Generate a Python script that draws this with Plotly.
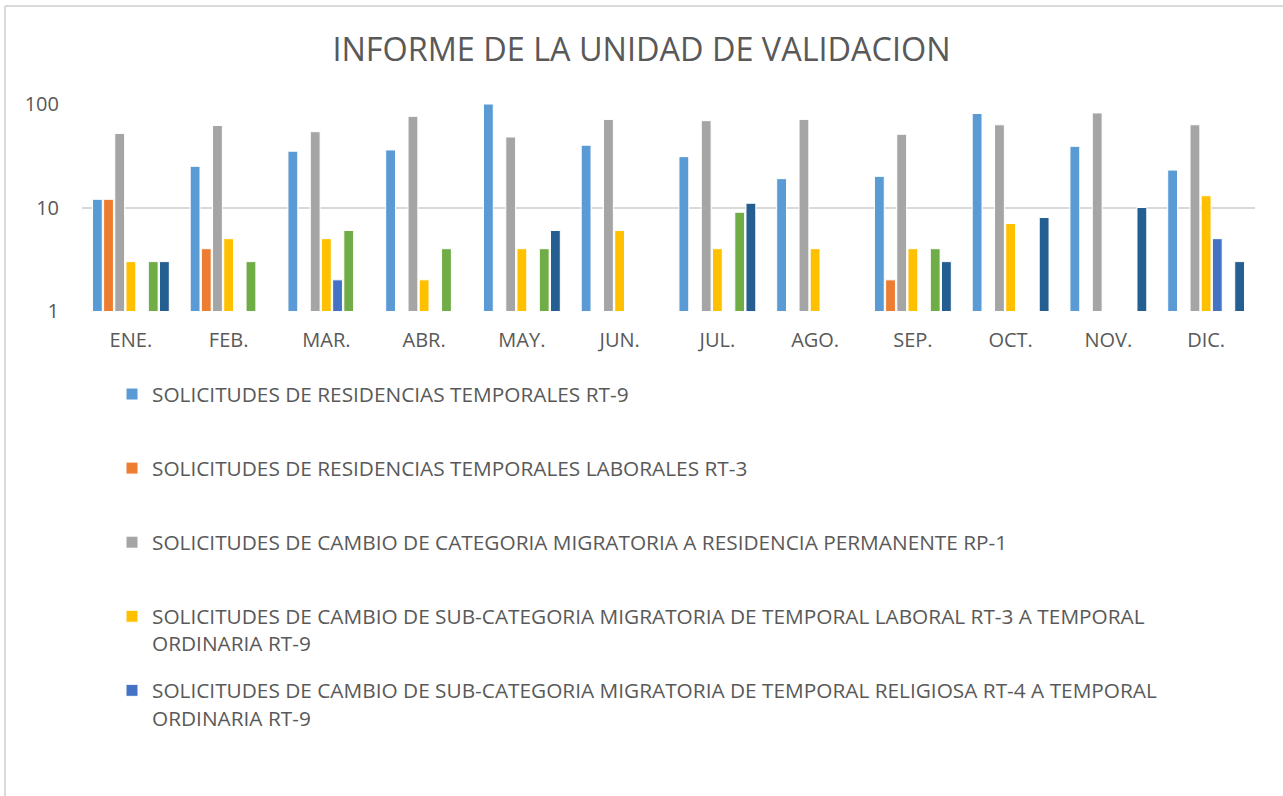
import plotly.graph_objects as go

months = ["ENE.", "FEB.", "MAR.", "ABR.", "MAY.", "JUN.", "JUL.", "AGO.", "SEP.", "OCT.", "NOV.", "DIC."]

rt9 = [12, 25, 35, 36, 100, 40, 31, 19, 20, 81, 39, 23]
rt3 = [12, 4, None, None, None, None, None, None, 2, None, None, None]
rp1 = [52, 62, 54, 76, 48, 71, 69, 71, 51, 63, 82, 63]
sub_rt3 = [3, 5, 5, 2, 4, 6, 4, 4, 4, 7, None, 13]
sub_rt4 = [None, None, 2, None, None, None, None, None, None, None, None, 5]
serie6 = [3, 3, 6, 4, 4, None, 9, None, 4, None, None, None]
serie7 = [3, None, None, None, 6, None, 11, None, 3, 8, 10, 3]

names = [
    "SOLICITUDES DE RESIDENCIAS TEMPORALES RT-9<br> ",
    "SOLICITUDES DE RESIDENCIAS TEMPORALES LABORALES RT-3<br> ",
    "SOLICITUDES DE CAMBIO DE CATEGORIA MIGRATORIA A RESIDENCIA PERMANENTE RP-1<br> ",
    "SOLICITUDES DE CAMBIO DE SUB-CATEGORIA MIGRATORIA DE TEMPORAL LABORAL RT-3 A TEMPORAL<br>ORDINARIA RT-9",
    "SOLICITUDES DE CAMBIO DE SUB-CATEGORIA MIGRATORIA DE TEMPORAL RELIGIOSA RT-4 A TEMPORAL<br>ORDINARIA RT-9",
    "SERIE 6",
    "SERIE 7",
]
series = [rt9, rt3, rp1, sub_rt3, sub_rt4, serie6, serie7]
colors = ["#5B9BD5", "#ED7D31", "#A5A5A5", "#FFC000", "#4472C4", "#70AD47", "#255E91"]
show = [True, True, True, True, True, False, False]

FONT = "Open Sans"
W, H = 1283, 796
L, R, T, B = 82, 28, 104, 485
PW, PH = W - L - R, H - T - B

fig = go.Figure()
for i, (nm, vals, c, s) in enumerate(zip(names, series, colors, show)):
    fig.add_trace(go.Bar(
        x=months, y=vals, name=nm, marker=dict(color=c, line=dict(color="white", width=1)),
        showlegend=s, legendgroup=f"g{i}",
    ))

fig.update_layout(
    width=W, height=H,
    margin=dict(l=L, r=R, t=T, b=B, autoexpand=False),
    paper_bgcolor="white", plot_bgcolor="white",
    barmode="group", bargap=0.2, bargroupgap=0.12,
    font=dict(family=FONT, color="#595959"),
    title=dict(text="INFORME DE LA UNIDAD DE VALIDACION", x=0.5, xanchor="center",
               y=1 - 50 / H, yanchor="middle", yref="container",
               font=dict(size=32.4, color="#595959", family=FONT)),
    xaxis=dict(showgrid=False, showline=False, ticks="", tickfont=dict(size=20, color="#595959"),
               ticklabelstandoff=15),
    yaxis=dict(type="log", range=[0, 2], tickvals=[1, 10, 100], ticktext=["1", "10", "100"],
               showgrid=True, gridcolor="#D9D9D9", gridwidth=2, zeroline=False, showline=False,
               tickfont=dict(size=20, color="#595959"), ticks="", ticklabelstandoff=22),
    legend=dict(orientation="v", xref="container", yref="container",
                x=112 / W, y=1 - 374 / H, xanchor="left", yanchor="top",
                font=dict(size=20.8, color="#595959", family=FONT),
                tracegroupgap=17, itemwidth=30, valign="top", bgcolor="rgba(0,0,0,0)"),
    shapes=[
        dict(type="line", xref="paper", yref="paper", x0=(5 - L) / PW, x1=(W - L) / PW,
             y0=(H - B - 6) / PH, y1=(H - B - 6) / PH,
             line=dict(color="#D9D9D9", width=2)),
        dict(type="line", xref="paper", yref="paper", x0=(5 - L) / PW, x1=(5 - L) / PW,
             y0=(H - B - 6) / PH, y1=-(B + 10) / PH,
             line=dict(color="#D9D9D9", width=2)),
    ],
)

fig.write_html("out.html", config={"displayModeBar": False},
               post_script="document.body.style.margin='0';")
